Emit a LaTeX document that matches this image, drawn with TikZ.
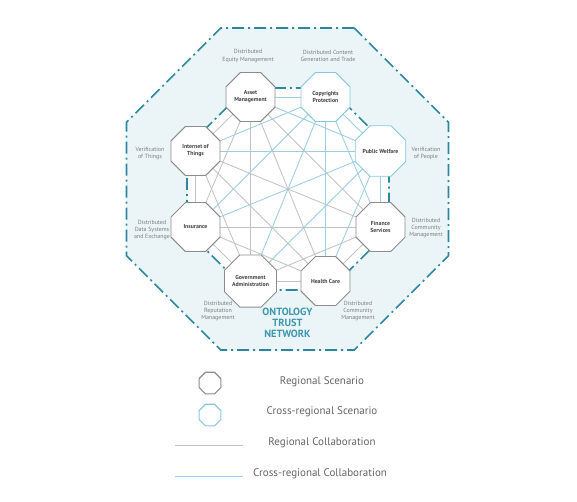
\documentclass[tikz,border=0pt]{standalone}
\usepackage{fontspec}
\setmainfont{PT Sans}
\usetikzlibrary{shapes.geometric}
\pgfdeclarelayer{bgA}
\pgfdeclarelayer{bgB}
\pgfsetlayers{bgA,bgB,main}
\definecolor{tealdark}{RGB}{42,135,158}
\definecolor{lightfill}{RGB}{235,245,248}
\definecolor{graynode}{RGB}{140,140,140}
\definecolor{bluenode}{RGB}{135,200,225}
\definecolor{grayedge}{RGB}{195,195,195}
\definecolor{blueedge}{RGB}{155,205,228}
\definecolor{titleteal}{RGB}{60,150,175}
\definecolor{lbltext}{RGB}{125,125,125}
\definecolor{nodetext}{RGB}{65,65,65}
\definecolor{legtext}{RGB}{100,100,100}
\begin{document}
\begin{tikzpicture}[x=1pt,y=-1pt,
  oct/.style={regular polygon, regular polygon sides=8, minimum size=53pt, inner sep=0pt, fill=white, line width=0.9pt, font=\fontsize{5.8}{7}\selectfont\bfseries, text=nodetext, align=center},
  regnode/.style={oct, draw=graynode},
  crossnode/.style={oct, draw=bluenode},
  legoct/.style={regular polygon, regular polygon sides=8, minimum size=23.5pt, inner sep=0pt, line width=1.2pt},
  lbl/.style={font=\fontsize{6}{7.3}\selectfont, text=lbltext, align=center},
  dashdot/.style={draw=tealdark, line width=1.6pt, dash pattern=on 12pt off 4pt on 2pt off 4pt},
  gedge/.style={draw=grayedge, line width=0.85pt},
  bedge/.style={draw=blueedge, line width=0.85pt},
  legtxt/.style={font=\fontsize{11}{12}\selectfont, text=legtext}]
\useasboundingbox (0,0) rectangle (577,501);

\node[regnode] (asset) at (250.5,97) {Asset\\Management};
\node[crossnode] (copy) at (325.5,97) {Copyrights\\Protection};
\node[crossnode] (welfare) at (380.5,151) {Public Welfare};
\node[regnode] (finance) at (380.5,227) {Finance\\Services};
\node[regnode] (health) at (325.5,281) {Health Care};
\node[regnode] (gov) at (250.5,281) {Government\\Administration};
\node[regnode] (ins) at (195.5,227) {Insurance};
\node[regnode] (iot) at (195.5,151) {Internet of\\Things};

\begin{pgfonlayer}{bgA}
\node[regular polygon, regular polygon sides=8, minimum size=348.6pt, fill=lightfill, dashdot] (outer) at (287.5,189) {};
\node[regular polygon, regular polygon sides=8, minimum size=218.6pt, fill=white, dashdot] (inner) at (288,189) {};
\end{pgfonlayer}

\begin{pgfonlayer}{bgB}
\foreach \a/\b in {asset/iot, asset/ins, asset/gov, asset/health, asset/finance, iot/ins, iot/gov, iot/health, iot/finance, ins/gov, ins/health, ins/finance, gov/health, gov/finance, health/finance}
  \draw[gedge] (\a.center) -- (\b.center);
\foreach \a/\b in {copy/asset, copy/iot, copy/ins, copy/gov, copy/health, copy/finance, copy/welfare, welfare/asset, welfare/iot, welfare/ins, welfare/gov, welfare/health, welfare/finance}
  \draw[bedge] (\a.center) -- (\b.center);
\end{pgfonlayer}

\node[lbl] (l1) at (248,56) {Distributed\\Equity Management};
\node[lbl] (l2) at (328,56) {Distributed Content\\Generation and Trade};
\node[lbl] (l3) at (150,153.5) {Verification\\of Things};
\node[lbl] (l4) at (426,153.5) {Verification\\of People};
\node[lbl] (l5) at (152,230) {Distributed\\Data Systems\\and Exchange};
\node[lbl] (l6) at (426,228) {Distributed\\Community\\Management};
\node[lbl] (l7) at (218,311) {Distributed\\Reputation\\Management};
\node[lbl] (l8) at (358,311) {Distributed\\Community\\Management};

\node[font=\fontsize{10.4}{10.8}\selectfont\bfseries, text=titleteal, align=center] (title) at (287.5,323) {ONTOLOGY\\TRUST\\NETWORK};

\node[legoct, draw=graynode] (lg1) at (210,383) {};
\node[legtxt] (lgt1) at (322,382) {Regional Scenario};
\node[legoct, draw=bluenode] (lg2) at (210,415) {};
\node[legtxt] (lgt2) at (322,412) {Cross-regional Scenario};
\coordinate (lg3a) at (175,445);
\coordinate (lg3b) at (243,445);
\draw[gedge, line width=1pt] (lg3a) -- (lg3b);
\node[legtxt] (lgt3) at (322,443) {Regional Collaboration};
\coordinate (lg4a) at (175,476);
\coordinate (lg4b) at (243,476);
\draw[bedge, line width=1pt] (lg4a) -- (lg4b);
\node[legtxt] (lgt4) at (320,474) {Cross-regional Collaboration};
\end{tikzpicture}
\end{document}
